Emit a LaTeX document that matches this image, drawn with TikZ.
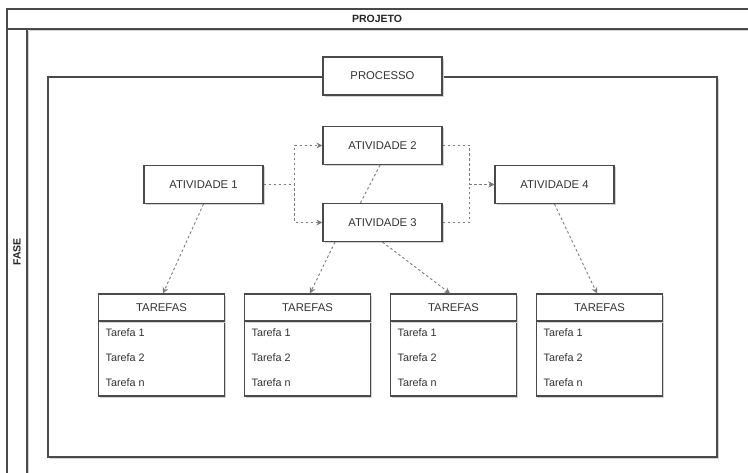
\documentclass[tikz,border=0pt]{standalone}
\usepackage{fontspec}
\setmainfont{Liberation Sans}
\usetikzlibrary{arrows.meta,shadows}
\definecolor{edgegray}{HTML}{4A4A4A}
\definecolor{linkgray}{HTML}{7A7A7A}
\definecolor{inkgray}{HTML}{333333}
\definecolor{shadegray}{HTML}{D2D2D2}
\begin{document}
\begin{tikzpicture}[x=1pt,y=-1pt,
  boxshadow/.style={general shadow={shadow xshift=1.6pt,shadow yshift=-1.6pt,fill=shadegray}},
  edgeline/.style={draw=edgegray,line width=1.2pt},
  boxfont/.style={font=\fontsize{11.3}{13}\selectfont,text=inkgray},
  actbox/.style={edgeline,fill=white,boxshadow,minimum width=119pt,minimum height=38pt,inner sep=0pt,boxfont},
  taskhead/.style={edgeline,fill=white,boxshadow,minimum width=126pt,minimum height=27pt,inner sep=0pt,boxfont},
  taskbody/.style={edgeline,fill=white,boxshadow,minimum width=126pt,minimum height=75pt,inner sep=0pt},
  taskitem/.style={anchor=west,inner sep=0pt,font=\fontsize{10.8}{13}\selectfont,text=inkgray},
  lanelabel/.style={font=\bfseries\fontsize{10.5}{12}\selectfont,text=black!85},
  conn/.style={draw=linkgray,line width=0.9pt,dash pattern=on 2.5pt off 2.5pt,-{Stealth[length=6pt,width=6pt]}},
  link/.style={draw=linkgray,line width=0.9pt,dash pattern=on 2.5pt off 2.5pt}
]
\useasboundingbox (0,0) rectangle (748,473);

% pool frame: PROJETO header and FASE lane
\draw[shadegray,line width=1.2pt] (28.6,30.6) -- (748,30.6);
\draw[shadegray,line width=1.2pt] (28.6,30.6) -- (28.6,473);
\draw[edgeline] (748,9) -- (7,9) -- (7,473);
\draw[edgeline] (7,29) -- (748,29);
\draw[edgeline] (27,29) -- (27,473);
\node[lanelabel] (projeto) at (377,19) {PROJETO};
\node[lanelabel,rotate=90] (fase) at (17,252) {FASE};

% process container
\draw[edgeline,fill=white,boxshadow] (48,77) rectangle (717,457);
\node[actbox] (processo) at (382.5,76) {PROCESSO};

% activities
\node[actbox] (a1) at (203.5,184.5) {ATIVIDADE 1};
\node[actbox] (a2) at (382.5,145.5) {ATIVIDADE 2};
\node[actbox] (a3) at (382.5,222.5) {ATIVIDADE 3};
\node[actbox] (a4) at (554.5,184.5) {ATIVIDADE 4};

% task lists
\foreach \i/\cx in {1/161.5,2/307.5,3/453.5,4/599.5}{
  \node[taskbody] (tb\i) at (\cx,358.5) {};
  \node[taskhead] (th\i) at (\cx,307.5) {TAREFAS};
  \node[taskitem] (ta\i) at (\cx-56,333) {Tarefa 1};
  \node[taskitem] (tc\i) at (\cx-56,358) {Tarefa 2};
  \node[taskitem] (tn\i) at (\cx-56,383) {Tarefa n};
}

% flow between activities
\draw[conn] (a1.east) -- ++(31,0) |- (a2.west);
\draw[conn] (a1.east) -- ++(31,0) |- (a3.west);
\draw[conn] (a2.east) -- ++(27,0) |- (a4.west);
\draw[conn] (a3.east) -- ++(27,0) |- (a4.west);
\draw[link] ([xshift=-2.5pt]a2.south) -- ([xshift=-22pt]a3.north);

% activities to their task lists
\draw[conn] (a1.south) -- ([xshift=1.5pt]th1.north);
\draw[conn] ([xshift=-47.5pt]a3.south) -- ([xshift=2.5pt]th2.north);
\draw[conn] (a3.south) -- ([xshift=-3.5pt]th3.north);
\draw[conn] (a4.south) -- ([xshift=-2.5pt]th4.north);
\end{tikzpicture}
\end{document}
